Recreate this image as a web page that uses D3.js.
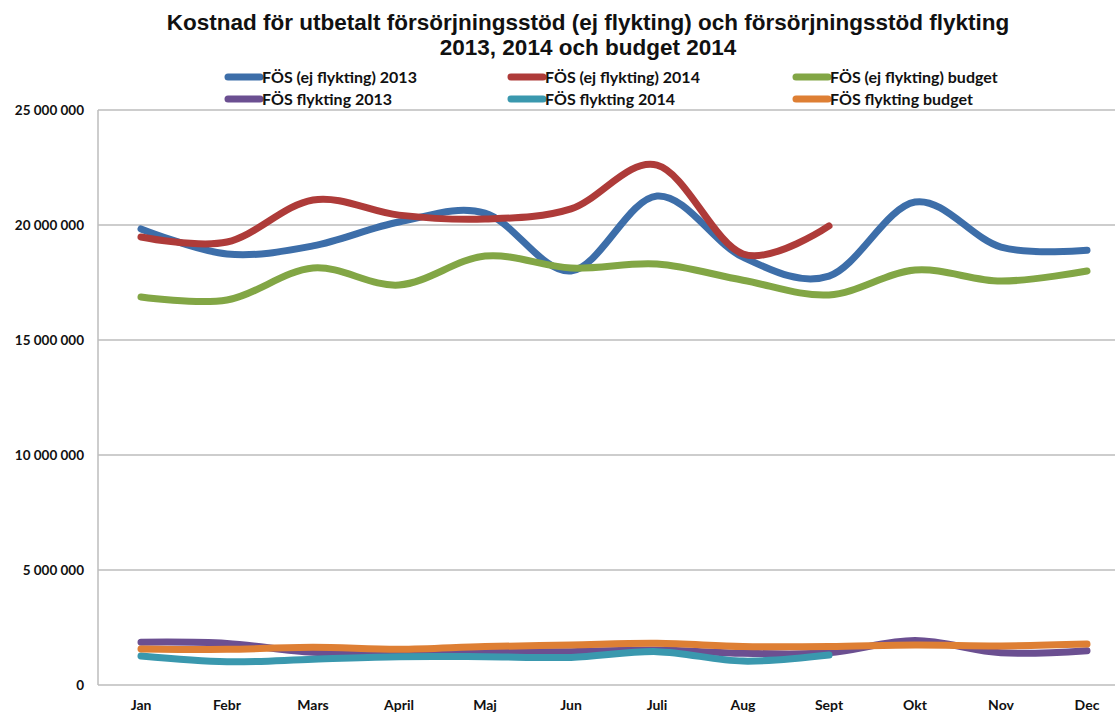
<!DOCTYPE html>
<html><head><meta charset="utf-8">
<script src="https://cdn.jsdelivr.net/npm/d3@7"></script>
<style>body{margin:0;background:#fff}svg{display:block}</style>
</head><body><svg id="c" width="1115" height="714"></svg>
<script>
const months = ["Jan","Febr","Mars","April","Maj","Jun","Juli","Aug","Sept","Okt","Nov","Dec"];
const yTicks = [0,5000000,10000000,15000000,20000000,25000000];
const seriesNames = ["FÖS (ej flykting) 2013","FÖS (ej flykting) 2014","FÖS (ej flykting) budget","FÖS flykting 2013","FÖS flykting 2014","FÖS flykting budget"];
const seriesColors = ["#3D6EA9","#AE3B39","#82A645","#6B4F91","#3A98AE","#DE7F34"];
const ejFlykting2013 = [19830000,18740000,19090000,20130000,20520000,18000000,21260000,18600000,17780000,21000000,19040000,18900000];
const ejFlykting2014 = [19480000,19260000,21090000,20430000,20260000,20700000,22600000,18740000,19960000];
const ejFlyktingBudget = [16870000,16740000,18130000,17390000,18650000,18130000,18300000,17600000,16960000,18040000,17560000,18000000];
const flykting2013 = [1860000,1810000,1420000,1450000,1450000,1450000,1520000,1380000,1400000,1930000,1400000,1490000];
const flykting2014 = [1260000,1010000,1120000,1230000,1230000,1200000,1450000,1040000,1300000];
const flyktingBudget = [1570000,1550000,1640000,1550000,1670000,1740000,1810000,1670000,1670000,1740000,1700000,1780000];
const seriesValues = [ejFlykting2013,ejFlykting2014,ejFlyktingBudget,flykting2013,flykting2014,flyktingBudget];

(function(){
const svg = d3.select("#c");
const mLeft = 98, mRight = 1130, mTop = 110, mBottom = 685;
const x = d3.scaleBand().domain(months).range([mLeft, mRight]);
const y = d3.scaleLinear().domain([0,25000000]).range([mBottom, mTop]);
const fmt = v => d3.format(",")(v).replace(/,/g, " ");

svg.append("g").selectAll("line").data(yTicks).join("line")
  .attr("x1", mLeft).attr("x2", 1115).attr("y1", d=>y(d)).attr("y2", d=>y(d))
  .attr("stroke", "#BDBDBD").attr("stroke-width", 1.5);
svg.append("line").attr("x1", mLeft).attr("x2", mLeft).attr("y1", mTop).attr("y2", mBottom)
  .attr("stroke", "#BDBDBD").attr("stroke-width", 1.5);

const yAxis = d3.axisLeft(y).tickValues(yTicks).tickFormat(fmt).tickSize(0).tickPadding(14);
const ya = svg.append("g").attr("transform", `translate(${mLeft},0)`).call(yAxis);
ya.select(".domain").remove();
ya.selectAll("text").attr("font-family","Lato, 'Open Sans', sans-serif").attr("font-weight","bold")
  .attr("font-size","13.5px").attr("fill","#111");

const xAxis = d3.axisBottom(x).tickSize(0).tickPadding(15);
const xa = svg.append("g").attr("transform", `translate(0,${mBottom})`).call(xAxis);
xa.select(".domain").remove();
xa.selectAll("text").attr("font-family","Lato, 'Open Sans', sans-serif").attr("font-weight","bold")
  .attr("font-size","14px").attr("fill","#111");

const line = d3.line().x((d,i)=>x(months[i]) + x.bandwidth()/2).y(d=>y(d)).curve(d3.curveCardinal.tension(0));
seriesValues.forEach((vals, k) => {
  svg.append("path").attr("d", line(vals)).attr("fill","none")
    .attr("stroke", seriesColors[k]).attr("stroke-width", 7)
    .attr("stroke-linecap","round").attr("stroke-linejoin","round");
});

const title = svg.append("text").attr("text-anchor","middle").attr("font-family","'Liberation Sans', Arial, sans-serif")
  .attr("font-weight","bold").attr("font-size","22.5px").attr("fill","#111");
title.append("tspan").attr("x", 588).attr("y", 30).text("Kostnad för utbetalt försörjningsstöd (ej flykting) och försörjningsstöd flykting");
title.append("tspan").attr("x", 588).attr("y", 55).text("2013, 2014 och budget 2014");

const legX = [225, 508, 793], legY = [77, 99];
seriesNames.forEach((name, k) => {
  const col = k % 3, row = Math.floor(k / 3);
  const g = svg.append("g").attr("transform", `translate(${legX[col]},${legY[row]})`);
  g.append("line").attr("x1", 3).attr("x2", 35).attr("y1", 0).attr("y2", 0)
    .attr("stroke", seriesColors[k]).attr("stroke-width", 7).attr("stroke-linecap","round");
  g.append("text").attr("x", 37).attr("y", 5.5).attr("font-family","Lato, 'Open Sans', sans-serif")
    .attr("font-weight","bold").attr("font-size","16px").attr("fill","#111").text(name);
});
})();
</script></body></html>
